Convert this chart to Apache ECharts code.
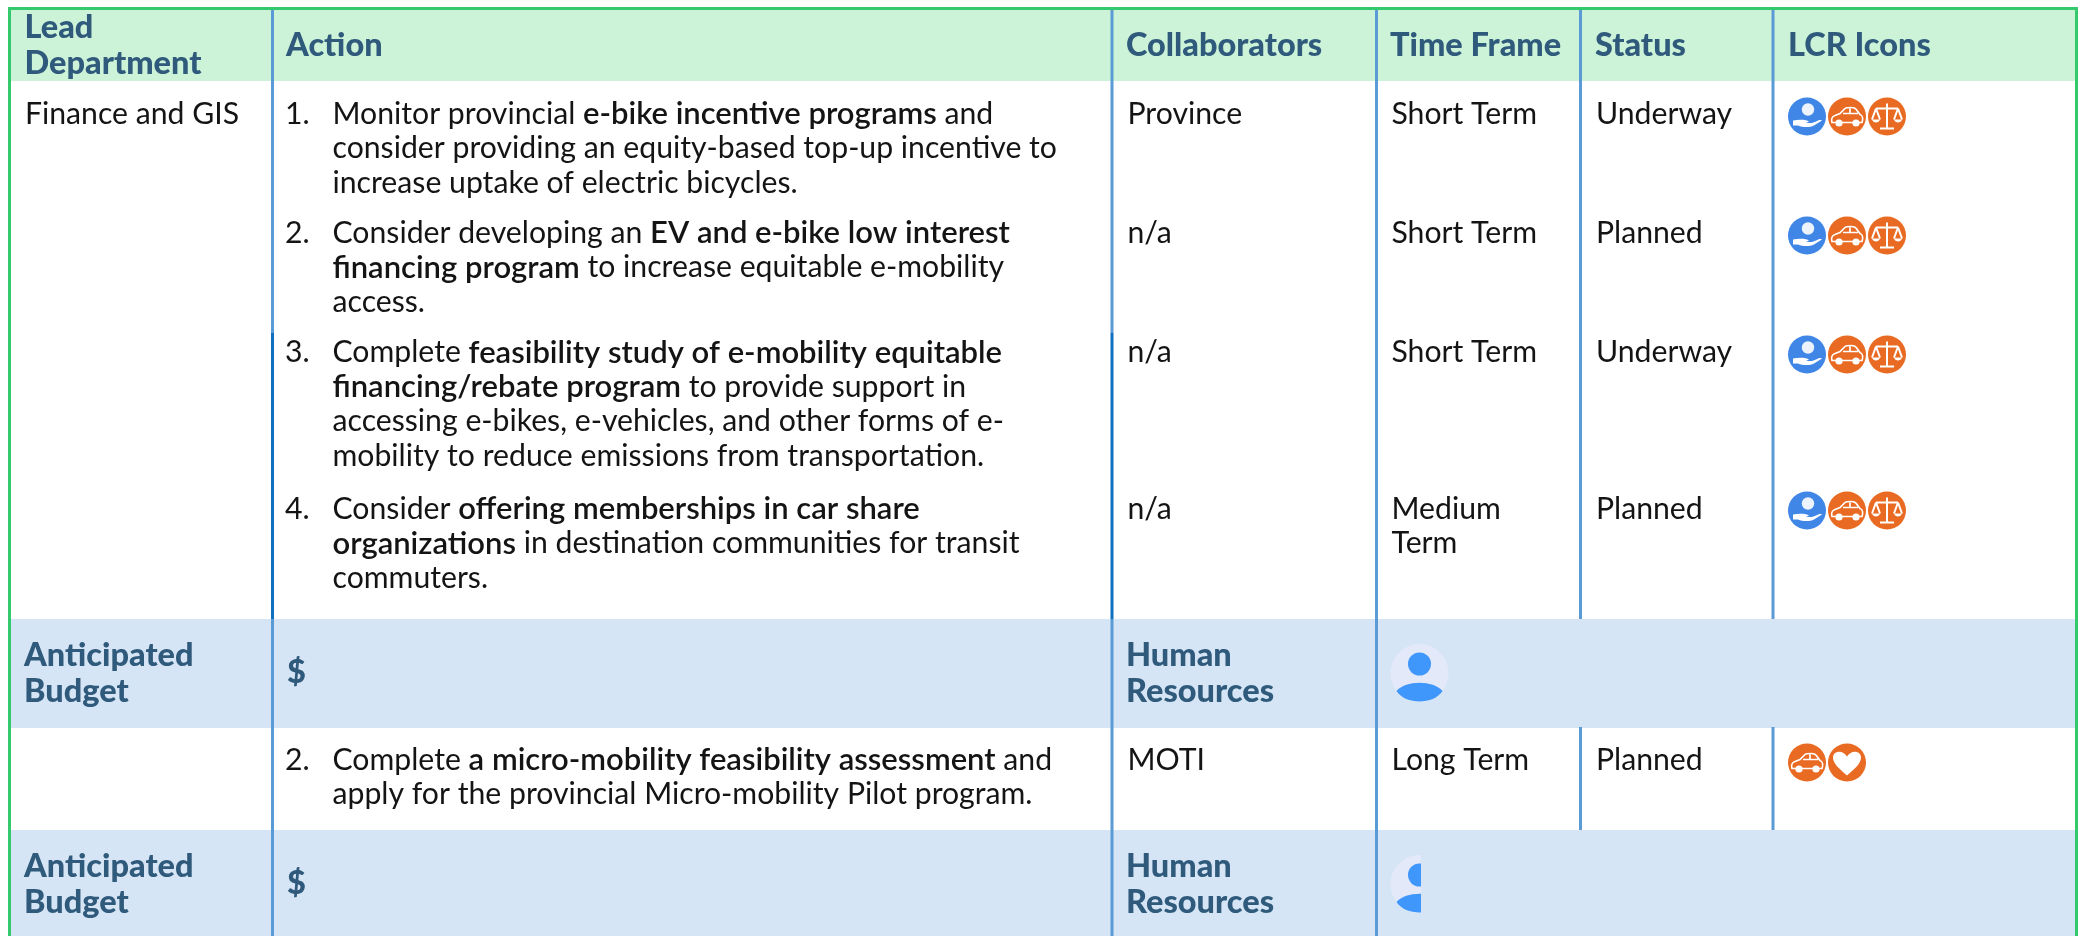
<!DOCTYPE html>
<html>
<head>
<meta charset="utf-8">
<style>html,body{margin:0;padding:0;background:#fff}#chart-container{width:2078px;height:936px}</style>
<script src="https://cdn.jsdelivr.net/npm/echarts@6/dist/echarts.min.js"></script>
</head>
<body>
<div id="chart-container"></div>
<script>
// table content
var headers = [['Lead', 'Department'], ['Action'], ['Collaborators'], ['Time Frame'], ['Status'], ['LCR Icons']];
var leadDepartment = 'Finance and GIS';
var actions = [
  ['Monitor provincial {b|e-bike incentive programs} and', 'consider providing an equity-based top-up incentive to', 'increase uptake of electric bicycles.'],
  ['Consider developing an {b|EV and e-bike low interest}', '{b|financing program} to increase equitable e-mobility', 'access.'],
  ['Complete {b|feasibility study of e-mobility equitable}', '{b|financing/rebate program} to provide support in', 'accessing e-bikes, e-vehicles, and other forms of e-', 'mobility to reduce emissions from transportation.'],
  ['Consider {b|offering memberships in car share}', '{b|organizations} in destination communities for transit', 'commuters.'],
  ['Complete {b|a micro-mobility feasibility assessment} and', 'apply for the provincial Micro-mobility Pilot program.']
];
var actionNumbers = ['1.', '2.', '3.', '4.', '2.'];
var collaborators = ['Province', 'n/a', 'n/a', 'n/a', 'MOTI'];
var timeFrames = [['Short Term'], ['Short Term'], ['Short Term'], ['Medium', 'Term'], ['Long Term']];
var statuses = ['Underway', 'Planned', 'Underway', 'Planned', 'Planned'];
var lcrIcons = [['hand', 'car', 'scale'], ['hand', 'car', 'scale'], ['hand', 'car', 'scale'], ['hand', 'car', 'scale'], ['car', 'heart']];
var budgetLabel = ['Anticipated', 'Budget'];
var budgetValue = '$';
var resourcesLabel = ['Human', 'Resources'];

// layout, in page pixels
var colLines = [272.5, 1112, 1376.5, 1580.5, 1773];
var textX = {lead: 25, num: 285, action: 332.5, collab: 1127.5, time: 1391.5, status: 1596, icon: [1807, 1847, 1887]};
var headX = [24.5, 286, 1126, 1390, 1595, 1788];
var itemY = [114, 233, 352.5, 509, 760];
var iconY = [116.5, 235.5, 354.5, 510.5, 762.5];
var lineH = 34.6;
var budgetY = [[656, 692], [867, 903]];

var FONT = 'Lato';
var INK = '#141414', NAVY = '#2f5a7b';
var BODY = 30.2, BOLD = 31, HEAD = 32.5;

var cells = [];
function addCell(x, y, text, kind) { cells.push({x: x, y: y, text: text, kind: kind}); }

headers.forEach(function (h, i) {
  if (h.length === 2) {
    addCell(headX[i], 28, h[0], 'head');
    addCell(headX[i], 64, h[1], 'head');
  } else {
    addCell(headX[i], 46, h[0], 'head');
  }
});
addCell(textX.lead, itemY[0], leadDepartment, 'body');
actions.forEach(function (lines, i) {
  addCell(textX.num, itemY[i], actionNumbers[i], 'body');
  lines.forEach(function (l, j) { addCell(textX.action, itemY[i] + j * lineH, l, 'body'); });
  addCell(textX.collab, itemY[i], collaborators[i], 'body');
  timeFrames[i].forEach(function (l, j) { addCell(textX.time, itemY[i] + j * lineH, l, 'body'); });
  addCell(textX.status, itemY[i], statuses[i], 'body');
});
budgetY.forEach(function (ys) {
  budgetLabel.forEach(function (l, j) { addCell(24, ys[j], l, 'head'); });
  addCell(287, (ys[0] + ys[1]) / 2 - 1, budgetValue, 'head');
  resourcesLabel.forEach(function (l, j) { addCell(1126, ys[j], l, 'head'); });
});

// background rects and rules: x0, y0, x1, y1, fill
var rects = [
  [10, 9, 2077, 81, '#ccf2d8'],
  [10, 619, 2077, 728, '#d6e5f5'],
  [10, 830, 2077, 936, '#d6e5f5']
];
var rules = [];
colLines.forEach(function (x, i) {
  if (i < 2) {
    // first two rules are darker over the lower white part of the block
    rules.push([x, 9, x, 333, '#5b9bd5']);
    rules.push([x, 333, x, 619, '#0f70c0']);
    rules.push([x, 619, x, 936, '#5b9bd5']);
  } else if (i === 2) {
    rules.push([x, 9, x, 936, '#5b9bd5']);
  } else {
    rules.push([x, 9, x, 619, '#5b9bd5']);
    rules.push([x, 727, x, 830, '#5b9bd5']);
  }
});

var iconPoints = [];
lcrIcons.forEach(function (set, i) {
  set.forEach(function (name, j) { iconPoints.push([textX.icon[j], iconY[i], name]); });
});
var people = [[1419.5, 673, 0], [1419.5, 884, 1]];

function carGlyph() {
  return [
    {type: 'path', shape: {pathData: 'M-15 6 C-16 3 -15 0 -12 -1 L-7 -3 L-2 -8 C-1 -9 1 -9 4 -9 C7 -9 9 -8 10 -6 L13 -2 C16 -1 16 3 15 6 Z M-4 -3 L11 -3 M3 -9 L3 -3'}, style: {fill: null, stroke: '#fff', lineWidth: 1.7}},
    {type: 'circle', shape: {cx: -8, cy: 6.5, r: 3.6}, style: {fill: '#fff'}},
    {type: 'circle', shape: {cx: 9, cy: 6.5, r: 3.6}, style: {fill: '#fff'}}
  ];
}
function scaleGlyph() {
  return [
    {type: 'path', shape: {pathData: 'M0 -13 L0 11 M-7 12 L7 12 M-11 -8 L11 -8 M-11 -8 L-15 3 M-11 -8 L-7 3 M11 -8 L7 3 M11 -8 L15 3'}, style: {fill: null, stroke: '#fff', lineWidth: 2}},
    {type: 'path', shape: {pathData: 'M-15 3 L-7 3 C-8 7 -14 7 -15 3 Z M7 3 L15 3 C14 7 8 7 7 3 Z'}, style: {fill: '#fff'}}
  ];
}
function handGlyph() {
  return [
    {type: 'circle', shape: {cx: 1, cy: -7, r: 6.2}, style: {fill: '#fff', opacity: 0.9}},
    {type: 'path', shape: {pathData: 'M-14 4 L-14 9 L-9 9 C-4 11 3 11 7 9 L15 4 C13 3 11 4 9 5 L5 6.5 L-1 6.5 L2 5 C0 3 -8 2.5 -14 4 Z'}, style: {fill: '#fff'}}
  ];
}
function heartGlyph() {
  return [{type: 'path', shape: {pathData: 'M0 13 C-8 6 -14 1 -14 -5 C-14 -12 -4 -13 0 -6 C4 -13 14 -12 14 -5 C14 1 8 6 0 13 Z'}, style: {fill: '#fff'}}];
}
var glyphs = {car: carGlyph, scale: scaleGlyph, hand: handGlyph, heart: heartGlyph};

function renderRect(params, api) {
  var p0 = api.coord([api.value(0), api.value(1)]);
  var p1 = api.coord([api.value(2), api.value(3)]);
  return {type: 'rect', shape: {x: p0[0], y: p0[1], width: p1[0] - p0[0], height: p1[1] - p0[1]}, style: {fill: rects[params.dataIndex][4]}};
}
function renderRule(params, api) {
  var p0 = api.coord([api.value(0), api.value(1)]);
  var p1 = api.coord([api.value(2), api.value(3)]);
  return {type: 'rect', shape: {x: p0[0] - 1.5, y: p0[1], width: 3, height: p1[1] - p0[1]}, style: {fill: rules[params.dataIndex][4]}};
}
function renderCell(params, api) {
  var c = cells[params.dataIndex];
  var p = api.coord([c.x, c.y]);
  var head = c.kind === 'head';
  return {
    type: 'text', x: p[0], y: p[1],
    style: {
      text: c.text, fontFamily: FONT, fontSize: head ? HEAD : BODY, fontWeight: head ? 900 : 400,
      fill: head ? NAVY : INK, verticalAlign: 'middle', align: 'left',
      rich: {b: {fontFamily: FONT, fontSize: BOLD, fontWeight: 600, fill: INK}}
    }
  };
}
function renderIcon(params, api) {
  var pt = iconPoints[params.dataIndex];
  var p = api.coord([pt[0], pt[1]]);
  var fill = pt[2] === 'hand' ? '#3f86e6' : '#e96a22';
  return {
    type: 'group', x: p[0], y: p[1],
    children: [{type: 'circle', shape: {cx: 0, cy: 0, r: 19}, style: {fill: fill}}].concat(glyphs[pt[2]]())
  };
}
function renderPerson(params, api) {
  var pt = people[params.dataIndex];
  var p = api.coord([pt[0], pt[1]]);
  var g = {
    type: 'group', x: p[0], y: p[1],
    children: [
      {type: 'circle', shape: {cx: 0, cy: 0, r: 29}, style: {fill: '#e3e9f9'}},
      {type: 'circle', shape: {cx: 0, cy: -9, r: 11.5}, style: {fill: '#3f96fb'}},
      {type: 'path', shape: {pathData: 'M-23 18 C-14 7 14 7 23 18 C14 32 -14 32 -23 18 Z'}, style: {fill: '#3f96fb'}}
    ]
  };
  if (pt[2]) g.clipPath = {type: 'rect', shape: {x: -40, y: -40, width: 41.5, height: 80}};
  return g;
}

function customSeries(data, fn, z) {
  return {type: 'custom', coordinateSystem: 'cartesian2d', data: data, renderItem: fn, silent: true, animation: false, clip: false, z: z,
    encode: {x: 0, y: 1}};
}

var myChart = echarts.init(document.getElementById('chart-container'), null, {renderer: 'canvas'});
var option = {
  backgroundColor: '#fff',
  grid: {left: 0, right: 0, top: 0, bottom: 0},
  xAxis: {type: 'value', min: 0, max: 2078, show: false},
  yAxis: {type: 'value', min: 0, max: 936, inverse: true, show: false},
  series: [
    customSeries(rects.map(function (r) { return r.slice(0, 4); }), renderRect, 1),
    customSeries(rules.map(function (r) { return r.slice(0, 4); }), renderRule, 2),
    customSeries([[9.5, 7, 11, 936], [2076.5, 7, 2078, 936], [9.5, 7, 2078, 10]], function (params, api) {
      var p0 = api.coord([api.value(0), api.value(1)]);
      var p1 = api.coord([api.value(2), api.value(3)]);
      return {type: 'rect', shape: {x: p0[0] - 1.5, y: p0[1], width: p1[0] - p0[0] + 1.5, height: p1[1] - p0[1]}, style: {fill: '#34c96c'}};
    }, 3),
    customSeries(cells.map(function (c) { return [c.x, c.y]; }), renderCell, 4),
    customSeries(iconPoints.map(function (p) { return [p[0], p[1]]; }), renderIcon, 4),
    customSeries(people.map(function (p) { return [p[0], p[1]]; }), renderPerson, 4)
  ]
};
myChart.setOption(option);
window.addEventListener('resize', myChart.resize);
</script>
</body>
</html>
